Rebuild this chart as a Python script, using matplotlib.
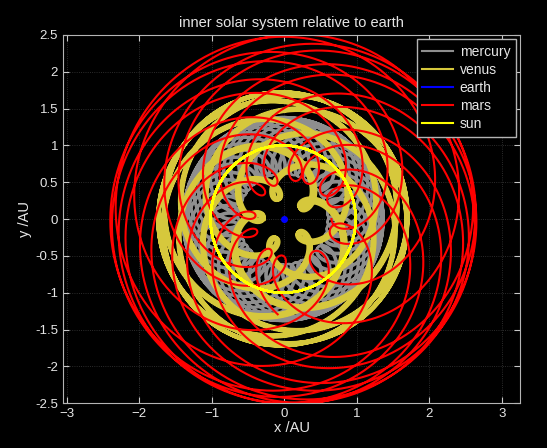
import numpy as np
import matplotlib
matplotlib.use("Agg")
import matplotlib.pyplot as plt

plt.rcParams['font.family'] = ['Liberation Sans', 'DejaVu Sans']

# orbital elements: mercury, venus, earth, mars
names = ["mercury", "venus", "earth", "mars"]
semi_major = [0.387, 0.723, 1.000, 1.524]      # AU
period = [0.2408, 0.6152, 1.0000, 1.8808]      # years
ecc = [0.0, 0.0068, 0.0167, 0.0934]
peri_long = [180.0, 180.0, 180.0, 180.0]       # deg
mean_long0 = [0.0, 0.0, 0.0, 0.0]              # deg at t=0

n_years = 26
t = np.arange(0, n_years * 365.25) / 365.25


def helio(i):
    a, P, e = semi_major[i], period[i], ecc[i]
    w = np.radians(peri_long[i])
    M = 2 * np.pi * t / P + np.radians(mean_long0[i]) - w
    E = M.copy()
    for _ in range(20):
        E = E - (E - e * np.sin(E) - M) / (1 - e * np.cos(E))
    xo = a * (np.cos(E) - e)
    yo = a * np.sqrt(1 - e ** 2) * np.sin(E)
    return xo * np.cos(w) - yo * np.sin(w), xo * np.sin(w) + yo * np.cos(w)


pos = {n: helio(i) for i, n in enumerate(names)}
ex, ey = pos["earth"]

colors = {"mercury": "#8e8e8e", "venus": "#d6c83c", "earth": "#0000ff",
          "mars": "#ff0000", "sun": "#ffff00"}

fig = plt.figure(figsize=(5.47, 4.48), dpi=100, facecolor="black")
ax = fig.add_axes([0.115, 0.10, 0.836, 0.822], facecolor="black")

mx, my = pos["mercury"]
ax.plot(mx - ex, my - ey, color=colors["mercury"], lw=1.6, label="mercury")
vx, vy = pos["venus"]
ax.plot(vx - ex, vy - ey, color=colors["venus"], lw=3.2, label="venus")
ax.plot([0], [0], color=colors["earth"], marker="o", ms=4, lw=1.5, label="earth")
rx, ry = pos["mars"]
ax.plot(rx - ex, ry - ey, color=colors["mars"], lw=1.5, label="mars")
ax.plot(-ex, -ey, color=colors["sun"], lw=1.5, label="sun")

ax.set_xlim(-3.05, 3.25)
ax.set_ylim(-2.5, 2.5)
ax.set_xticks([-3, -2, -1, 0, 1, 2, 3])
ax.set_yticks(np.arange(-2.5, 2.51, 0.5))
ax.set_yticklabels(["-2.5", "-2", "-1.5", "-1", "-0.5", "0", "0.5", "1", "1.5", "2", "2.5"])
ax.grid(True, color="#3a3a3a", lw=0.6, ls=":")
ax.tick_params(colors="#c8c8c8", labelcolor="#e6e6e6", direction="in", labelsize=9.5,
               top=True, right=True, length=4)
for s in ax.spines.values():
    s.set_color("#b4b4b4")
ax.set_title("inner solar system relative to earth", color="#e6e6e6", fontsize=10.5, pad=6)
ax.set_xlabel("x /AU", color="#e6e6e6", fontsize=10.5, labelpad=1)
ax.set_ylabel("y /AU", color="#e6e6e6", fontsize=10.5, labelpad=2)

leg = ax.legend(loc="upper right", fontsize=10, facecolor="black", edgecolor="#b4b4b4",
                labelcolor="#e6e6e6", framealpha=1, fancybox=False, handlelength=2.2,
                borderaxespad=0.3, labelspacing=0.3, handletextpad=0.5)
for h in leg.get_lines():
    h.set_marker("")
    h.set_linewidth(1.5)

fig.savefig("out.png", dpi=100, facecolor="black")
